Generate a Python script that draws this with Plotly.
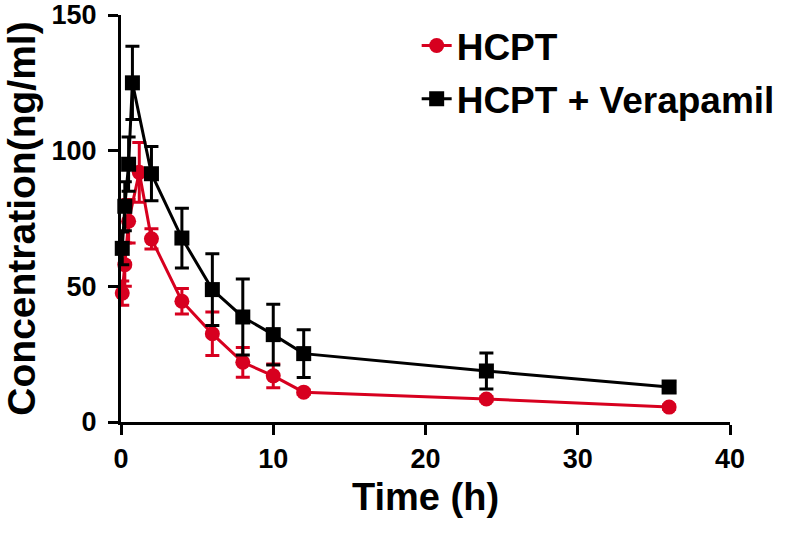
import plotly.graph_objects as go

time_hcpt = [0.083, 0.25, 0.5, 1.2, 2, 4, 6, 8, 10, 12, 24, 36]
conc_hcpt = [47.5, 58.0, 74.0, 92.0, 67.5, 44.5, 32.5, 22.0, 17.0, 11.0, 8.5, 5.5]
err_hcpt = [4.5, 8.0, 8.0, 11.0, 3.7, 4.7, 8.0, 5.5, 4.4, 0.8, 0.8, 0.8]

time_vera = [0.083, 0.25, 0.5, 0.75, 2, 4, 6, 8, 10, 12, 24, 36]
conc_vera = [64.0, 79.5, 95.0, 125.0, 91.5, 67.8, 48.8, 38.7, 32.2, 25.2, 18.8, 12.9]
err_vera = [6.0, 9.0, 10.0, 13.5, 10.0, 11.0, 13.2, 14.0, 11.2, 8.8, 6.6, 2.0]

RED = "#d7001f"
BLACK = "#000000"
FONT = "Liberation Sans, Arial, sans-serif"

fig = go.Figure()
fig.add_trace(go.Scatter(
    x=time_hcpt, y=conc_hcpt, name="HCPT", mode="lines+markers",
    line=dict(color=RED, width=3),
    marker=dict(symbol="circle", size=15, color=RED),
    error_y=dict(type="data", array=err_hcpt, color=RED, thickness=3, width=7),
    cliponaxis=False, legendgroup="a",
))
fig.add_trace(go.Scatter(
    x=time_vera, y=conc_vera, name="HCPT + Verapamil", mode="lines+markers",
    line=dict(color=BLACK, width=3),
    marker=dict(symbol="square", size=15, color=BLACK),
    error_y=dict(type="data", array=err_vera, color=BLACK, thickness=3, width=7),
    cliponaxis=False, legendgroup="b",
))

fig.update_layout(
    width=800, height=534,
    margin=dict(l=121, r=70, t=15, b=112),
    plot_bgcolor="white", paper_bgcolor="white",
    showlegend=True,
    legend=dict(
        x=0.4855, y=1.0, xanchor="left", yanchor="top",
        font=dict(family=FONT, size=37, color="black", weight="bold"),
        bgcolor="rgba(0,0,0,0)", tracegroupgap=2,
    ),
    xaxis=dict(
        range=[0, 40], tickvals=[0, 10, 20, 30, 40], automargin=False,
        showline=True, linecolor="black", linewidth=3,
        ticks="outside", ticklen=10, tickwidth=3, tickcolor="black",
        ticklabelstandoff=1, ticklabeloverflow="allow",
        showgrid=False, zeroline=False,
        tickfont=dict(family=FONT, size=27, color="black", weight="bold"),
        title=dict(text="Time (h)", font=dict(family=FONT, size=38, color="black", weight="bold"), standoff=10),
    ),
    yaxis=dict(
        range=[0, 150], tickvals=[0, 50, 100, 150], automargin=False,
        showline=True, linecolor="black", linewidth=3,
        ticks="outside", ticklen=10, tickwidth=3, tickcolor="black",
        ticklabelstandoff=6, ticklabeloverflow="allow",
        showgrid=False, zeroline=False,
        tickfont=dict(family=FONT, size=27, color="black", weight="bold"),
        title=dict(text="Concentration(ng/ml)", font=dict(family=FONT, size=39, color="black", weight="bold"), standoff=12),
    ),
)

fig.write_html("out.html", config={"displayModeBar": False},
               post_script="document.body.style.margin='0';")
